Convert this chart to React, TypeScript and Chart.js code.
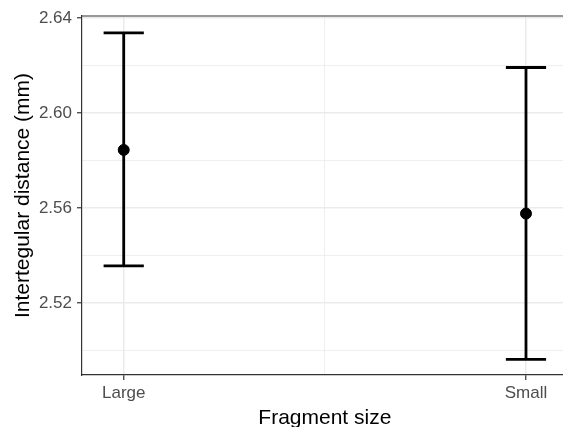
import React, { useEffect, useRef } from "react";
import { Chart, registerables } from "chart.js";

Chart.register(...registerables);

const categories = ["Large", "Small"];
const means = [2.5844, 2.5576];
const lowerCI = [2.5356, 2.4962];
const upperCI = [2.6337, 2.6191];
const yMajorTicks = [2.52, 2.56, 2.6, 2.64];
const yMinorTicks = [2.5, 2.54, 2.58, 2.62];
const xMinorTicks = [1.5];
const xTitle = "Fragment size";
const yTitle = "Intertegular distance (mm)";

const FONT = "'Liberation Sans', Arial, sans-serif";

const errorBarPlugin = {
  id: "errorBars",
  beforeDatasetsDraw(chart: any) {
    const { ctx, scales } = chart;
    const xs = scales.x;
    const ys = scales.y;
    ctx.save();
    ctx.strokeStyle = "#000";
    ctx.lineWidth = 2.8;
    ctx.lineCap = "butt";
    categories.forEach((_, i) => {
      const xc = xs.getPixelForValue(i + 1);
      const xl = xs.getPixelForValue(i + 1 - 0.05);
      const xr = xs.getPixelForValue(i + 1 + 0.05);
      const yl = ys.getPixelForValue(lowerCI[i]);
      const yu = ys.getPixelForValue(upperCI[i]);
      ctx.beginPath();
      ctx.moveTo(xc, yl);
      ctx.lineTo(xc, yu);
      ctx.moveTo(xl, yl);
      ctx.lineTo(xr, yl);
      ctx.moveTo(xl, yu);
      ctx.lineTo(xr, yu);
      ctx.stroke();
    });
    ctx.restore();
  },
  afterDraw(chart: any) {
    const { ctx, chartArea } = chart;
    ctx.save();
    ctx.strokeStyle = "#333333";
    ctx.lineWidth = 1.2;
    ctx.beginPath();
    ctx.moveTo(chartArea.left, chartArea.top);
    ctx.lineTo(chartArea.right, chartArea.top);
    ctx.stroke();
    ctx.fillStyle = "#000";
    ctx.font = `21px ${FONT}`;
    ctx.textAlign = "center";
    ctx.textBaseline = "alphabetic";
    const xs = chart.scales.x;
    const panelCenterX = (xs.getPixelForValue(0.8963) + xs.getPixelForValue(2.1037)) / 2;
    ctx.fillText(xTitle, panelCenterX, 424);
    ctx.translate(28.5, (chartArea.top + chartArea.bottom) / 2);
    ctx.rotate(-Math.PI / 2);
    ctx.fillText(yTitle, 0, 0);
    ctx.restore();
  },
};

export default function App() {
  const ref = useRef<HTMLCanvasElement | null>(null);
  useEffect(() => {
    document.body.style.margin = "0";
    if (!ref.current) return;
    const chart = new Chart(ref.current, {
      type: "scatter",
      data: {
        datasets: [
          {
            data: categories.map((_, i) => ({ x: i + 1, y: means[i] })),
            backgroundColor: "#000",
            borderColor: "#000",
            pointRadius: 5.5,
            pointHoverRadius: 5.5,
            clip: false,
          },
        ],
      },
      options: {
        responsive: false,
        animation: false,
        events: [],
        layout: { autoPadding: false, padding: { top: 16, left: 0, right: 0, bottom: 0 } },
        plugins: {
          legend: { display: false },
          tooltip: { enabled: false },
        },
        scales: {
          x: {
            type: "linear",
            min: 0.8963,
            max: 2.092,
            afterFit(scale: any) {
              scale.height = 52;
              scale.paddingLeft = 0;
              scale.paddingRight = 0;
            },
            afterBuildTicks(scale: any) {
              const t = [
                ...categories.map((_, i) => ({ value: i + 1, major: true })),
                ...xMinorTicks.map((v) => ({ value: v, major: false })),
              ].sort((a, b) => a.value - b.value);
              scale.ticks = t;
            },
            ticks: {
              autoSkip: false,
              maxRotation: 0,
              padding: 3,
              color: "#4d4d4d",
              font: { family: FONT, size: 17 },
              callback: (v: any) => {
                const idx = Math.round(Number(v)) - 1;
                return Math.abs(Number(v) - Math.round(Number(v))) < 1e-6 ? categories[idx] : "";
              },
            },
            grid: {
              color: "#ebebeb",
              lineWidth: (c: any) => (c.tick && c.tick.major ? 1.5 : 0.8),
              tickColor: (c: any) => (c.tick && c.tick.major ? "#333333" : "rgba(0,0,0,0)"),
              tickLength: 5,
              tickWidth: 1.2,
            },
            border: { display: true, color: "#333333", width: 1.2 },
          },
          y: {
            type: "linear",
            min: 2.4896,
            max: 2.6408,
            afterFit(scale: any) {
              scale.width = 82;
              scale.paddingTop = 0;
              scale.paddingBottom = 0;
            },
            afterBuildTicks(scale: any) {
              const t = [
                ...yMajorTicks.map((v) => ({ value: v, major: true })),
                ...yMinorTicks.map((v) => ({ value: v, major: false })),
              ].sort((a, b) => a.value - b.value);
              scale.ticks = t;
            },
            ticks: {
              autoSkip: false,
              padding: 5,
              color: "#4d4d4d",
              font: { family: FONT, size: 17 },
              callback: (v: any) => {
                const n = Number(v);
                return yMajorTicks.some((m) => Math.abs(m - n) < 1e-6) ? n.toFixed(2) : "";
              },
            },
            grid: {
              color: "#ebebeb",
              lineWidth: (c: any) => (c.tick && c.tick.major ? 1.5 : 0.8),
              tickColor: (c: any) => (c.tick && c.tick.major ? "#333333" : "rgba(0,0,0,0)"),
              tickLength: 5,
              tickWidth: 1.2,
            },
            border: { display: true, color: "#333333", width: 1.2 },
          },
        },
      },
      plugins: [errorBarPlugin],
    });
    return () => chart.destroy();
  }, []);
  return (
    <div style={{ position: "absolute", left: 0, top: 0, width: 563, height: 427, background: "#fff" }}>
      <canvas ref={ref} width={563} height={427} style={{ display: "block" }} />
    </div>
  );
}
